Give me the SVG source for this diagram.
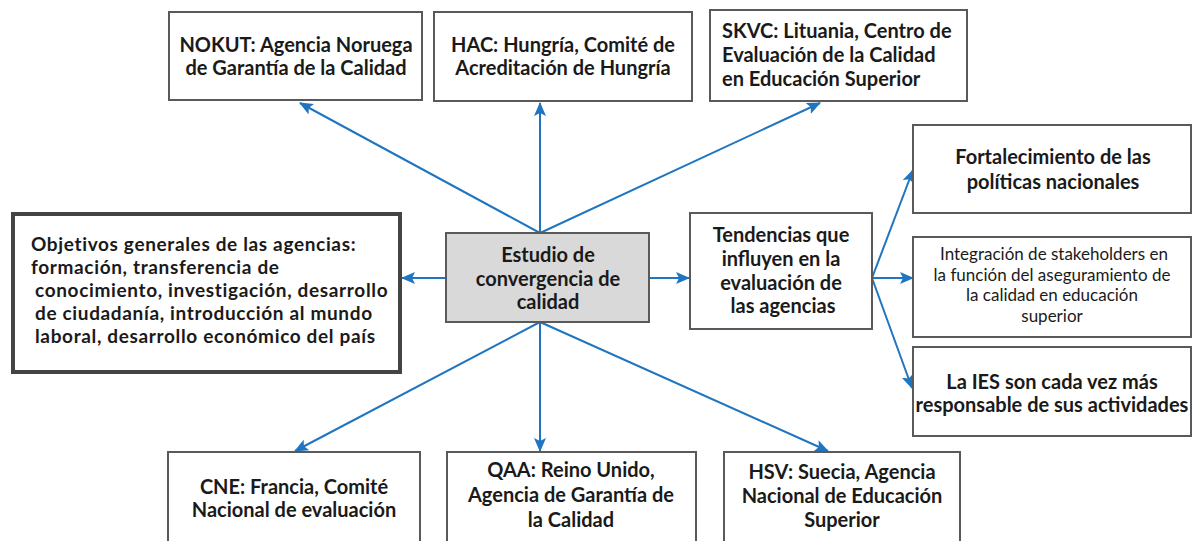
<svg xmlns="http://www.w3.org/2000/svg" width="1192" height="541" viewBox="0 0 1192 541">
<defs>
<style>
.box{fill:#fff;stroke:#5a5a5a;stroke-width:2}
.thick{fill:#fff;stroke:#444;stroke-width:4}
.gray{fill:#d9d9d9;stroke:#5a5a5a;stroke-width:2}
.t{font-family:Lato,"Liberation Sans",sans-serif;font-weight:700;font-size:20px;fill:#1a1a1a}
.c{text-anchor:middle}
.s{font-weight:400;font-size:17px}
.w{font-size:19px;letter-spacing:0.65px}
.ln{stroke:#1f75bf;stroke-width:2;fill:none;marker-end:url(#ah)}
</style>
<marker id="ah" markerUnits="userSpaceOnUse" viewBox="0 0 14 12" refX="13" refY="6" markerWidth="14" markerHeight="12" orient="auto">
<path d="M0,0 L14,6 L0,12 L3,6 z" fill="#1f75bf"/>
</marker>
</defs>
<rect width="1192" height="541" fill="#fff"/>
<g id="connectors">
<line class="ln" x1="540" y1="233" x2="300" y2="103"/>
<line class="ln" x1="540" y1="233" x2="540" y2="103"/>
<line class="ln" x1="540" y1="233" x2="820" y2="103"/>
<line class="ln" x1="540" y1="322" x2="295" y2="451"/>
<line class="ln" x1="540" y1="322" x2="540" y2="451"/>
<line class="ln" x1="540" y1="322" x2="828" y2="451"/>
<line class="ln" x1="446" y1="278" x2="402" y2="278"/>
<line class="ln" x1="649" y1="278" x2="689" y2="278"/>
<line class="ln" x1="872" y1="278" x2="913" y2="170"/>
<line class="ln" x1="872" y1="278" x2="913" y2="278"/>
<line class="ln" x1="872" y1="278" x2="912" y2="388"/>
</g>
<g id="nokut"><rect class="box" x="169" y="12" width="253" height="88"/>
<text class="t c"><tspan x="296" y="52">NOKUT: Agencia Noruega</tspan><tspan x="296" y="75">de Garantía de la Calidad</tspan></text></g>
<g id="hac"><rect class="box" x="434" y="12" width="258" height="89"/>
<text class="t c"><tspan x="563" y="52">HAC: Hungría, Comité de</tspan><tspan x="563" y="75">Acreditación de Hungría</tspan></text></g>
<g id="skvc"><rect class="box" x="710" y="10" width="257" height="91"/>
<text class="t"><tspan x="722" y="38">SKVC: Lituania, Centro de</tspan><tspan x="722" y="62">Evaluación de la Calidad</tspan><tspan x="722" y="86">en Educación Superior</tspan></text></g>
<g id="fortalecimiento"><rect class="box" x="913" y="125" width="278" height="88"/>
<text class="t c"><tspan x="1053" y="164">Fortalecimiento de las</tspan><tspan x="1053" y="189">políticas nacionales</tspan></text></g>
<g id="objetivos"><rect class="thick" x="13" y="214" width="387" height="158"/>
<text class="t w"><tspan x="31" y="251">Objetivos generales de las agencias:</tspan><tspan x="31" y="274">formación, transferencia de</tspan><tspan x="35" y="297">conocimiento, investigación, desarrollo</tspan><tspan x="35" y="320">de ciudadanía, introducción al mundo</tspan><tspan x="35" y="343">laboral, desarrollo económico del país</tspan></text></g>
<g id="estudio"><rect class="gray" x="446" y="233" width="203" height="89"/>
<text class="t c"><tspan x="548" y="262">Estudio de</tspan><tspan x="548" y="286">convergencia de</tspan><tspan x="548" y="309">calidad</tspan></text></g>
<g id="tendencias"><rect class="box" x="690" y="213" width="182" height="116"/>
<text class="t c"><tspan x="781" y="242">Tendencias que</tspan><tspan x="781" y="266">influyen en la</tspan><tspan x="781" y="290">evaluación de</tspan><tspan x="783" y="313">las agencias</tspan></text></g>
<g id="integracion"><rect class="box" x="913" y="237" width="278" height="100"/>
<text class="t c s"><tspan x="1054" y="260">Integración de stakeholders en</tspan><tspan x="1052" y="280.5">la función del aseguramiento de</tspan><tspan x="1052" y="301">la calidad en educación</tspan><tspan x="1052" y="321.5">superior</tspan></text></g>
<g id="ies"><rect class="box" x="913" y="347" width="278" height="89"/>
<text class="t c"><tspan x="1052" y="389">La IES son cada vez más</tspan><tspan x="1052" y="412">responsable de sus actividades</tspan></text></g>
<g id="cne"><rect class="box" x="168" y="452" width="252" height="95"/>
<text class="t c"><tspan x="294" y="494">CNE: Francia, Comité</tspan><tspan x="294" y="517">Nacional de evaluación</tspan></text></g>
<g id="qaa"><rect class="box" x="447" y="452" width="249" height="95"/>
<text class="t c"><tspan x="571" y="477">QAA: Reino Unido,</tspan><tspan x="571" y="502">Agencia de Garantía de</tspan><tspan x="571" y="527">la Calidad</tspan></text></g>
<g id="hsv"><rect class="box" x="724" y="452" width="236" height="95"/>
<text class="t c"><tspan x="842" y="479">HSV: Suecia, Agencia</tspan><tspan x="842" y="503">Nacional de Educación</tspan><tspan x="842" y="527">Superior</tspan></text></g>
</svg>
